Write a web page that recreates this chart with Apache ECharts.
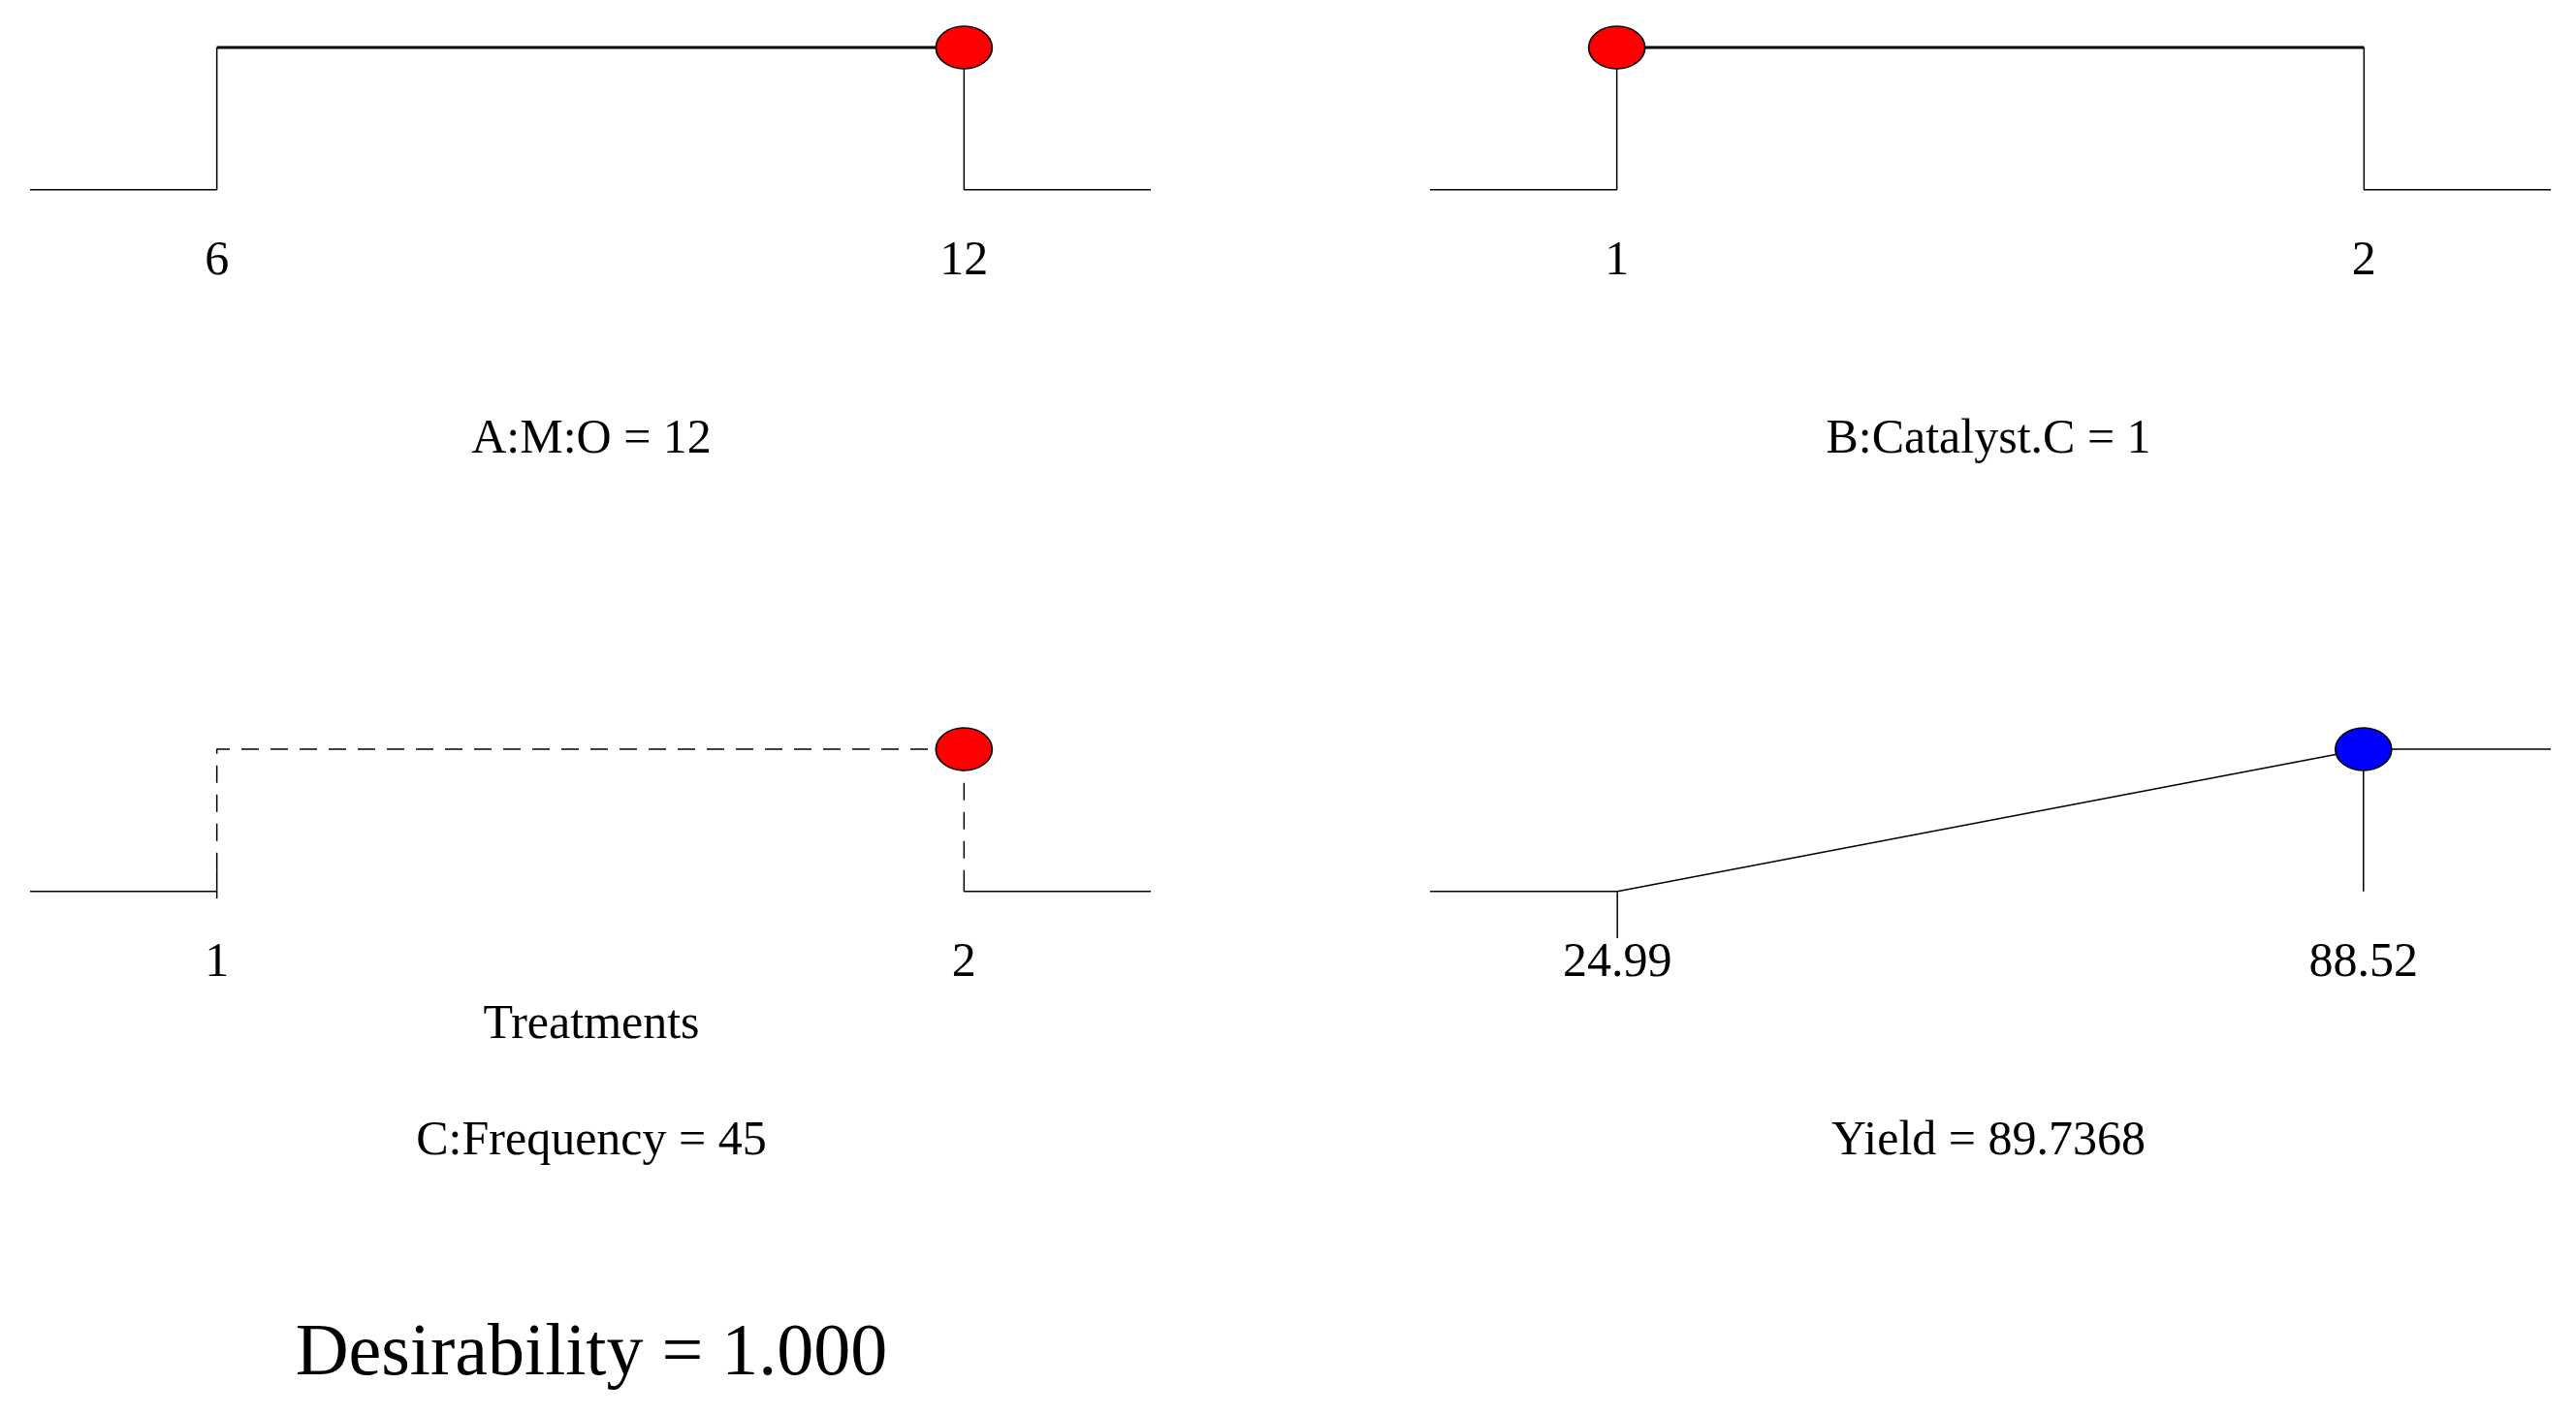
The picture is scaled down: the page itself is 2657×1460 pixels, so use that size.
<!DOCTYPE html>
<html>
<head>
<meta charset="utf-8">
<script src="https://cdn.jsdelivr.net/npm/echarts@6/dist/echarts.min.js"></script>
<style>html,body{margin:0;padding:0;background:#fff}#main{width:2657px;height:1460px}</style>
</head>
<body>
<div id="main"></div>
<script>
(function() {
    // ramp limits and current values
    var a_ticks = [6, 12];
    var b_ticks = [1, 2];
    var c_ticks = [1, 2];
    var d_ticks = [24.99, 88.52];
    var a_value = 12, b_value = 1, c_value = 2, d_value = 88.52;
    var titles = ['A:M:O = 12', 'B:Catalyst.C = 1', 'C:Frequency = 45', 'Yield = 89.7368'];
    var desirability = 'Desirability = 1.000';

    var a_top = [[6, 1], [12, 1]];
    var a_side = [[4.5, 0], [6, 0], [6, 1], null, [12, 1], [12, 0], [13.5, 0]];
    var b_top = [[1, 1], [2, 1]];
    var b_side = [[0.75, 0], [1, 0], [1, 1], null, [2, 1], [2, 0], [2.25, 0]];
    var c_solid = [[0.75, 0], [1, 0], [1, 0.15], null, [2, 0.1], [2, 0], [2.25, 0], null, [1, 0], [1, -0.05]];
    var c_dash = [[1, 0.15], [1, 1], [2, 1], [2, 0.1]];
    var d_line = [[9.04, 0], [24.99, 0], [24.99, -0.33], null, [24.99, 0], [88.52, 1], [88.52, 0], null, [88.52, 1], [104.47, 1]];

    var grids = [
        {left: 31, top: 49, width: 1156, height: 220},
        {left: 1475, top: 49, width: 1156, height: 220},
        {left: 31, top: 773, width: 1156, height: 220},
        {left: 1475, top: 773, width: 1156, height: 220},
    ];
    var ranges = [[4.5, 13.5], [0.75, 2.25], [0.75, 2.25], [9.04, 104.47]];
    var ticks = [a_ticks, b_ticks, c_ticks, d_ticks];

    var xAxes = ranges.map(function(r, i) {
        return {
            type: 'value', gridIndex: i, min: r[0], max: r[1],
            axisLine: {show: false}, axisTick: {show: false}, splitLine: {show: false},
            axisLabel: {
                show: true, customValues: ticks[i], margin: -24,
                fontFamily: 'Liberation Serif', fontSize: 50, color: '#000',
                formatter: function(v) { return String(v); }
            },
            position: 'bottom',
        };
    });
    var yAxes = ranges.map(function(r, i) {
        return {type: 'value', gridIndex: i, min: -0.5, max: 1, show: false};
    });

    function line(i, data, width, type) {
        return {
            type: 'line', xAxisIndex: i, yAxisIndex: i, data: data, symbol: 'none',
            connectNulls: false, clip: false, silent: true,
            lineStyle: {color: '#000', width: width, type: type || 'solid', dashOffset: 0},
        };
    }
    function dot(i, x, color) {
        return {
            type: 'scatter', xAxisIndex: i, yAxisIndex: i, data: [[x, 1]],
            symbol: 'circle', symbolSize: [58, 44], z: 10, silent: true,
            itemStyle: {color: color, borderColor: '#000', borderWidth: 1.5, opacity: 1},
        };
    }

    var text_style = {fontFamily: 'Liberation Serif', fontSize: 50, fill: '#000', textAlign: 'center', textVerticalAlign: 'middle'};
    function label(x, y, t, size) {
        var s = Object.assign({}, text_style, {text: t});
        if (size) s.fontSize = size;
        return {type: 'text', x: x, y: y, style: s};
    }

    var option = {
        animation: false,
        grid: grids,
        xAxis: xAxes,
        yAxis: yAxes,
        series: [
            line(0, a_top, 3), line(0, a_side, 1.5), dot(0, a_value, '#ff0000'),
            line(1, b_top, 3), line(1, b_side, 1.5), dot(1, b_value, '#ff0000'),
            line(2, c_solid, 1.5), line(2, c_dash, 1.5, [18, 12]), dot(2, c_value, '#ff0000'),
            line(3, d_line, 1.5), dot(3, d_value, '#0000ff'),
        ],
        graphic: [
            label(610, 454, titles[0]),
            label(2051, 454, titles[1]),
            label(610, 1058, 'Treatments'),
            label(610, 1178, titles[2]),
            label(2051, 1178, titles[3]),
            label(610, 1398, desirability, 76),
        ],
    };
    var myChart = echarts.init(document.getElementById('main'));
    myChart.setOption(option);
})();
</script>
</body>
</html>
